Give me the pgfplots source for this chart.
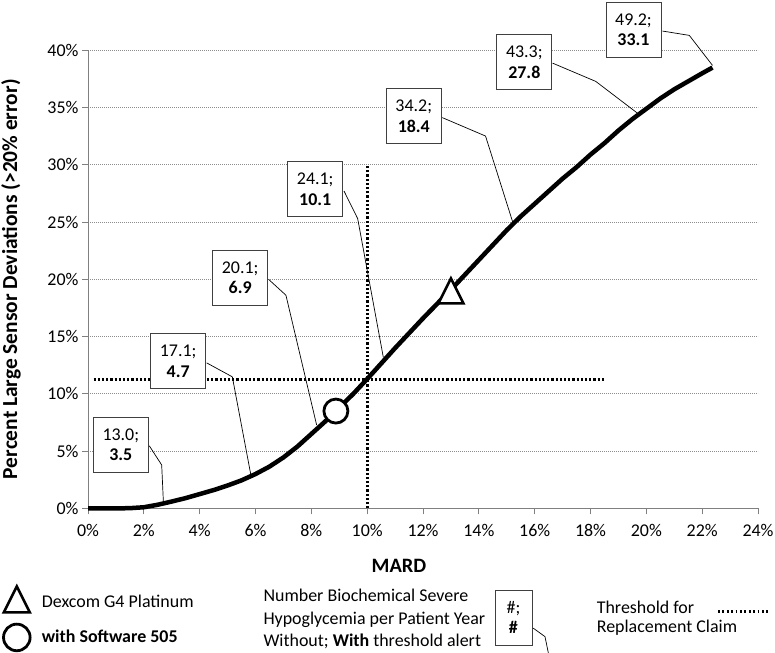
\documentclass[border=0pt]{standalone}
\usepackage{fontspec}
\setmainfont{Carlito}
\usepackage{pgfplots}
\pgfplotsset{compat=1.18}

% triangle as wide as it is tall, centred on its point
\pgfdeclareplotmark{tri}{%
  \pgfpathmoveto{\pgfqpoint{0pt}{\pgfplotmarksize}}%
  \pgfpathlineto{\pgfqpoint{\pgfplotmarksize}{-\pgfplotmarksize}}%
  \pgfpathlineto{\pgfqpoint{-\pgfplotmarksize}{-\pgfplotmarksize}}%
  \pgfpathclose
  \pgfusepathqfillstroke}

\tikzset{
  ann/.style={draw=black!75, line width=0.8bp, fill=white, align=center,
    minimum width=55bp, minimum height=55bp, inner sep=0pt,
    font=\fontsize{18}{20.5}\selectfont},
  lead/.style={black, line width=0.7bp},
  thr/.style={black, line width=3bp, dash pattern=on 2.2bp off 2bp},
}

\begin{document}
\begin{tikzpicture}[font=\fontsize{18}{21.6}\selectfont]
\useasboundingbox (0,0) rectangle (775bp,653bp);
\begin{axis}[
  at={(88bp,144.6bp)}, anchor=south west,
  scale only axis, width=670bp, height=458bp,
  xmin=0, xmax=24, ymin=0, ymax=40,
  xtick={0,2,...,24}, ytick={0,5,...,40},
  xticklabel={\pgfmathprintnumber{\tick}\%},
  yticklabel={\pgfmathprintnumber{\tick}\%},
  /pgf/number format/assume math mode=true,
  tick label style={font=\fontsize{18}{20}\selectfont},
  xticklabel style={yshift=-6bp},
  axis x line*=bottom, axis y line*=left,
  axis line style={draw=black!50, line width=1bp, -},
  tick align=outside, major tick length=6bp,
  tick style={draw=black!50, line width=1bp},
  ymajorgrids, major grid style={black!45, line width=0.8bp, dash pattern=on 1bp off 1bp},
  clip=false,
]

% threshold for replacement claim
\addplot[thr] coordinates {(10,0) (10,30)};
\addplot[thr] coordinates {(0.2,11.3) (18.5,11.3)};

% large deviations against MARD
\addplot[black, line width=4.5bp, line join=round] coordinates {
  (0,0) (1,0) (1.5,0.02) (2,0.1) (2.5,0.32) (3,0.6) (3.5,0.9) (4,1.25)
  (4.5,1.6) (5,2.0) (5.5,2.45) (6,3.0) (6.5,3.65) (7,4.45) (7.5,5.4)
  (8,6.5) (8.5,7.6) (9,8.8) (9.5,10.0) (10,11.3) (10.5,12.65) (11,14.0)
  (11.5,15.3) (12,16.6) (12.5,17.85) (13,19.1) (13.5,20.4) (14,21.7)
  (14.5,23.0) (15,24.3) (15.5,25.5) (16,26.6) (16.5,27.7) (17,28.8)
  (17.5,29.8) (18,30.9) (18.5,31.9) (19,33.0) (19.5,34.0) (20,34.9)
  (20.5,35.8) (21,36.6) (21.5,37.3) (22,38.0) (22.37,38.5)};

% Dexcom G4 Platinum, and with Software 505
\addplot[only marks, mark=tri, mark size=12.5bp, mark options={line width=2.6bp, fill=white}] coordinates {(13.0,19.0)};
\addplot[only marks, mark=*, mark size=12bp, mark options={line width=2.8bp, fill=white}] coordinates {(8.88,8.5)};

% callouts: without; with threshold alert
\draw[lead] (axis cs:2.195,5.47) -- (axis cs:2.64,3.79) -- (axis cs:2.70,0.58);
\draw[lead] (axis cs:4.25,12.71) -- (axis cs:5.17,11.49) -- (axis cs:5.83,2.97);
\draw[lead] (axis cs:6.47,20.0) -- (axis cs:7.09,18.62) -- (axis cs:8.19,7.28);
\draw[lead] (axis cs:9.17,27.72) -- (axis cs:9.66,25.31) -- (axis cs:10.58,13.18);
\draw[lead] (axis cs:12.69,34.13) -- (axis cs:14.24,32.52) -- (axis cs:15.23,24.88);
\draw[lead] (axis cs:16.64,38.89) -- (axis cs:18.19,37.29) -- (axis cs:19.75,34.39);
\draw[lead] (axis cs:20.58,41.69) -- (axis cs:21.54,41.31) -- (axis cs:22.37,38.69);
\node[ann] at (axis cs:1.175,5.56) {13.0;\\\textbf{3.5}};
\node[ann] at (axis cs:3.23,12.86) {17.1;\\\textbf{4.7}};
\node[ann] at (axis cs:5.45,20.15) {20.1;\\\textbf{6.9}};
\node[ann] at (axis cs:8.14,27.89) {24.1;\\\textbf{10.1}};
\node[ann] at (axis cs:11.67,34.26) {34.2;\\\textbf{18.4}};
\node[ann] at (axis cs:15.63,38.98) {43.3;\\\textbf{27.8}};
\node[ann] at (axis cs:19.54,41.82) {49.2;\\\textbf{33.1}};

% axis titles
\node[rotate=90, font=\bfseries\fontsize{21.5}{24}\selectfont] at (axis cs:-2.76,20.02)
  {Percent Large Sensor Deviations (>20\% error)};
\node[font=\bfseries\fontsize{20.5}{24}\selectfont] at (axis cs:11.14,-5.03) {MARD};

% key below the chart
\addplot[only marks, mark=tri, mark size=13bp, mark options={line width=2.6bp, fill=white}] coordinates {(-2.55,-7.95)};
\addplot[only marks, mark=*, mark size=13.3bp, mark options={line width=2.8bp, fill=white}] coordinates {(-2.55,-11.27)};
\node[anchor=west, inner sep=0pt] at (axis cs:-1.66,-8.14) {Dexcom G4 Platinum};
\node[anchor=west, inner sep=0pt] at (axis cs:-1.66,-11.13) {\textbf{with Software 505}};
\node[anchor=west, inner sep=0pt, align=left, font=\fontsize{18}{22.5}\selectfont] at (axis cs:6.28,-9.67)
  {Number Biochemical Severe\\Hypoglycemia per Patient Year\\Without; \textbf{With} threshold alert};
\draw[lead] (axis cs:15.95,-10.46) -- (axis cs:16.37,-11.2) -- (axis cs:16.49,-12.62);
\node[ann, minimum width=37bp] at (axis cs:15.24,-9.52) {\#;\\\textbf{\#}};
\node[anchor=west, inner sep=0pt, align=left, font=\fontsize{18}{20}\selectfont] at (axis cs:18.22,-9.59)
  {Threshold for\\Replacement Claim};
\addplot[black, line width=2.4bp, dash pattern=on 1.8bp off 2.6bp] coordinates {(22.57,-9.01) (24.43,-9.01)};

\end{axis}
\end{tikzpicture}
\end{document}
